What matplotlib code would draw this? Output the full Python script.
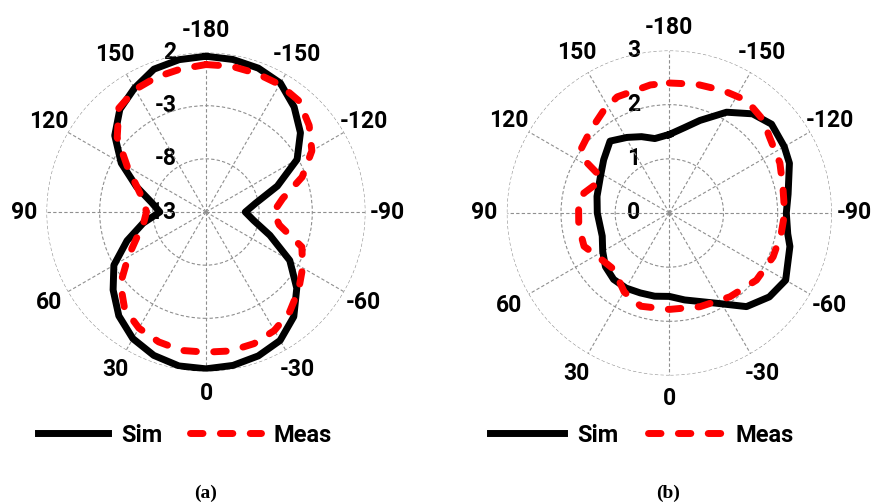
import numpy as np
import matplotlib
matplotlib.use("Agg")
import matplotlib.pyplot as plt

# ---------------- data ----------------
angle_ticks = [0, 30, 60, 90, 120, 150, 180, 210, 240, 270, 300, 330]
angle_labels = ['0', '30', '60', '90', '120', '150', '-180', '-150', '-120', '-90', '-60', '-30']

# (a)
ang_a = list(range(-180, 181, 10))
sim_a = [1.65, 1.57, 1.4, 1.0, -0.1, -1.4, -3.1, -5.85, -8.26, -9.3,
         -8.45, -6.6, -3.9, -1.85, -0.15, 0.95, 1.4, 1.65, 1.75, 1.7,
         1.35, 0.75, -0.25, -1.6, -3.0, -5.1, -7.0, -8.66, -7.8, -6.05,
         -3.8, -1.8, -0.4, 0.45, 1.3, 1.55, 1.65]
meas_a = [0.87, 0.92, 0.88, 0.85, 0.63, -0.33, -1.5, -3.37, -5.67, -6.65,
          -6.0, -3.4, -2.5, -1.62, -0.75, -0.13, 0.18, 0.27, 0.18, 0.22,
          0.0, -0.39, -1.1, -2.5, -4.55, -6.1, -7.05, -7.4, -7.05, -6.1,
          -4.46, -2.1, -0.25, 0.31, 0.52, 0.66, 0.87]
rticks_a = [-8, -3, 2]
rlabels_a = ['-13', '-8', '-3', '2']
rvals_a = [-13, -8, -3, 2]
rlim_a = (-13, 2)

# (b)
ang_sim_b = [-180, -170, -161.7, -150.4, -140, -131, -120, -112.5, -99, -90,
             -80, -74.5, -60, -50, -39.5, -27.6, -10, 0, 10, 20, 30, 40, 50,
             60, 71, 90, 103, 118, 129, 140.5, 150.7, 160, 169, 180]
sim_b = [1.45, 1.6, 1.80, 2.14, 2.39, 2.5, 2.45, 2.40, 2.22, 2.16,
         2.22, 2.31, 2.48, 2.41, 2.24, 1.88, 1.63, 1.54, 1.56, 1.57, 1.60,
         1.60, 1.54, 1.42, 1.31, 1.33, 1.37, 1.44, 1.56, 1.72, 1.60, 1.5,
         1.40, 1.45]
ang_meas_b = [-180, -168.1, -156.2, -145.5, -134.8, -127.1, -114.3, -102.8,
              -90, -79.6, -67.1, -52.4, -35.9, -18.1, 0, 17, 29.7, 44.5, 59,
              68.7, 81.6, 94.2, 103.1, 112.5, 118, 121.3, 125.4, 136.5,
              147.5, 155.8, 171.6, 180]
meas_b = [2.40, 2.43, 2.47, 2.52, 2.44, 2.32, 2.24, 2.15, 2.13, 2.10, 2.08,
          2.03, 1.91, 1.82, 1.78, 1.80, 1.68, 1.46, 1.55, 1.69, 1.69, 1.68,
          1.62, 1.44, 1.45, 1.77, 2.01, 2.11, 2.25, 2.35, 2.39, 2.40]
rticks_b = [1, 2, 3]
rlabels_b = ['0', '1', '2', '3']
rvals_b = [0, 1, 2, 3]
rlim_b = (0, 3)

# ---------------- style ----------------
FONT = ['Roboto', 'DejaVu Sans']
LBL = dict(family=FONT, weight='bold', size=16.5)
GRID_C = '#8f8f8f'

fig = plt.figure(figsize=(8.77, 5.03), dpi=100)
ax_a = fig.add_axes([0.0530, 0.2614, 0.3637, 0.6342], projection='polar')
ax_b = fig.add_axes([0.5779, 0.2535, 0.3706, 0.6461], projection='polar')


def setup(ax, rlim, rticks, rvals, rlabels):
    ax.set_theta_zero_location('S')
    ax.set_theta_direction(-1)
    ax.set_ylim(*rlim)
    ax.set_thetagrids(angle_ticks, labels=[''] * len(angle_ticks))
    ax.set_rgrids(rticks, labels=[''] * len(rticks))
    ax.grid(True, color=GRID_C, linestyle=(0, (3, 2)), linewidth=0.8)
    ax.spines['polar'].set_visible(False)
    ax.patch.set_visible(False)
    span = rlim[1] - rlim[0]
    r_lab = rlim[0] + 1.14 * span
    for a, l in zip(angle_ticks, angle_labels):
        ax.text(np.deg2rad(a), r_lab, l, ha='center', va='center',
                clip_on=False, **LBL)
    for v, l in zip(rvals, rlabels):
        ax.annotate(l, xy=(np.pi, v), xytext=(-21, 0),
                    textcoords='offset points', ha='right', va='center',
                    zorder=1, annotation_clip=False, **LBL)


setup(ax_a, rlim_a, rticks_a, rvals_a, rlabels_a)
setup(ax_b, rlim_b, rticks_b, rvals_b, rlabels_b)

LW = 5.0
dash = (1.8, 2.5)

ax_a.plot(np.deg2rad(ang_a), sim_a, color='black', lw=LW, zorder=3,
          solid_joinstyle='round', label='Sim')
ax_a.plot(np.deg2rad(ang_a), meas_a, color='#ff0000', lw=LW, zorder=4,
          linestyle=(0, dash), dash_capstyle='round', label='Meas')

ax_b.plot(np.deg2rad(ang_sim_b), sim_b, color='black', lw=LW, zorder=3,
          solid_joinstyle='round', label='Sim')
ax_b.plot(np.deg2rad(ang_meas_b), meas_b, color='#ff0000', lw=LW, zorder=4,
          linestyle=(0, dash), dash_capstyle='round', label='Meas')

leg_prop = dict(family=FONT, weight='bold', size=17)
ax_a.legend(loc='center left', bbox_to_anchor=(38 / 877, 68 / 503),
            bbox_transform=fig.transFigure, ncol=2, frameon=False,
            borderpad=0, borderaxespad=0, handlelength=2.97,
            handletextpad=0.55, columnspacing=1.19, prop=leg_prop)
ax_b.legend(loc='center left', bbox_to_anchor=(490 / 877, 68 / 503),
            bbox_transform=fig.transFigure, ncol=2, frameon=False,
            borderpad=0, borderaxespad=0, handlelength=3.13,
            handletextpad=0.55, columnspacing=1.27, prop=leg_prop)

cap = dict(family=['Liberation Serif', 'DejaVu Serif'], weight='bold', size=14,
           ha='center', va='center')
fig.text(206 / 877, 1 - 493 / 503, '(a)', **cap)
fig.text(668 / 877, 1 - 493 / 503, '(b)', **cap)

fig.savefig('out.png', dpi=100)
